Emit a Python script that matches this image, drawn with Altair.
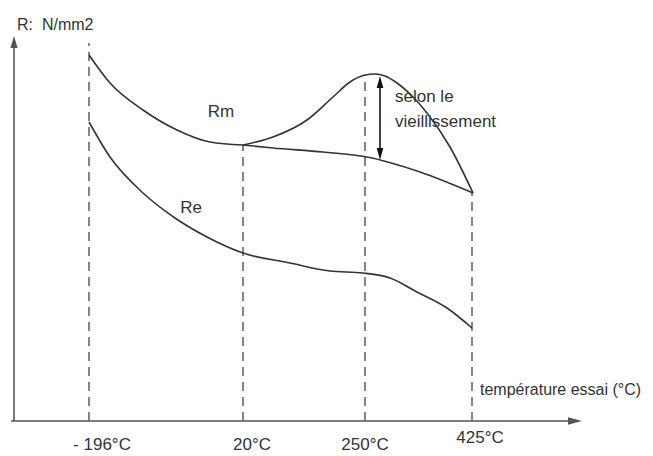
import altair as alt
import pandas as pd

# Schematic coordinates (x: horizontal position units, y: strength units, 0 at page bottom)
H = 456

# Rm branch from -196°C to 20°C
rm_cold_x = [89, 110, 143, 177, 210, 243]
rm_cold_y = [55, 83, 110, 130, 142, 145]
# Rm after ageing (hump)
rm_age_x = [243, 273, 307, 333, 350, 365, 375, 385, 397, 412, 427, 450, 473]
rm_age_y = [145, 137, 120, 97, 82, 75, 74, 76, 83, 96, 113, 147, 193]
# Rm without ageing
rm_flat_x = [243, 273, 323, 367, 420, 473]
rm_flat_y = [145, 148, 152, 157, 172, 193]
# Re
re_x = [89, 110, 143, 175, 207, 243, 290, 330, 363, 390, 417, 447, 472]
re_y = [122, 157, 193, 218, 237, 253, 263, 271, 273, 278, 292, 308, 328]

# vertical reference lines (temperatures)
temp_labels = ["- 196°C", "20°C", "250°C", "425°C"]
temp_pos = [89, 243, 365, 472]
temp_top = [43, 145, 75, 193]
label_x = [102, 252, 365, 480]
label_y = [445, 445, 445, 438]

rows = []
for name, xs, ys in [("rm1", rm_cold_x, rm_cold_y), ("rm2", rm_age_x, rm_age_y),
                     ("rm3", rm_flat_x, rm_flat_y), ("re", re_x, re_y)]:
    for x, y in zip(xs, ys):
        rows.append({"s": name, "x": x, "y": H - y})
curves = pd.DataFrame(rows)

xs = alt.Scale(domain=[8, 645], range=[0, 637], nice=False, zero=False)
ys = alt.Scale(domain=[2, 448], nice=False, zero=False)

def X(f="x"):
    return alt.X(f"{f}:Q", scale=xs, axis=None)

def Y(f="y"):
    return alt.Y(f"{f}:Q", scale=ys, axis=None)

ink = "#333333"
axc = "#555555"

lines = alt.Chart(curves).mark_line(interpolate="monotone", color=ink, strokeWidth=1.6).encode(
    x=X(), y=Y(), detail="s:N", order="x:Q")

vdf = pd.DataFrame({"x": temp_pos, "y": [H - 421] * 4, "y2": [H - t for t in temp_top]})
vlines = alt.Chart(vdf).mark_rule(color="#444444", strokeWidth=1.3, strokeDash=[9, 6]).encode(
    x=X(), y=Y(), y2="y2:Q")

# axes
axdf = pd.DataFrame({"x": [14, 11], "x2": [14, 570], "y": [H - 421, H - 421], "y2": [H - 46, H - 421]})
axes = alt.Chart(axdf).mark_rule(color=axc, strokeWidth=1.6).encode(x=X(), x2="x2:Q", y=Y(), y2="y2:Q")

up_head = alt.Chart(pd.DataFrame({"x": [14], "y": [H - 42]})).mark_point(
    shape="M0,-1L0.6,1L-0.6,1Z", filled=True, size=144, color=axc, opacity=1).encode(x=X(), y=Y())
right_head = alt.Chart(pd.DataFrame({"x": [575], "y": [H - 421]})).mark_point(
    shape="M1,0L-1,0.55L-1,-0.55Z", filled=True, size=196, color=axc, opacity=1).encode(x=X(), y=Y())

# double arrow "selon le vieillissement"
arr = alt.Chart(pd.DataFrame({"x": [380], "y": [H - 80], "y2": [H - 156]})).mark_rule(
    color="#111111", strokeWidth=1.6).encode(x=X(), y=Y(), y2="y2:Q")
arr_up = alt.Chart(pd.DataFrame({"x": [380], "y": [H - 82]})).mark_point(
    shape="M0,-1L0.55,1L-0.55,1Z", filled=True, size=144, color="#111111", opacity=1).encode(x=X(), y=Y())
arr_dn = alt.Chart(pd.DataFrame({"x": [380], "y": [H - 154]})).mark_point(
    shape="M0,1L0.55,-1L-0.55,-1Z", filled=True, size=144, color="#111111", opacity=1).encode(x=X(), y=Y())

font = "Liberation Sans"
tick_df = pd.DataFrame({"t": temp_labels, "x": label_x, "y": [H - v for v in label_y]})
ticks = alt.Chart(tick_df).mark_text(font=font, fontSize=17, color=ink, align="center", baseline="middle").encode(
    x=X(), y=Y(), text="t:N")

left_txt = pd.DataFrame({
    "t": ["R:\u00a0 N/mm2", "selon le", "vieillissement", "température essai (°C)"],
    "x": [17, 395, 395, 480],
    "y": [H - 25, H - 97, H - 122, H - 390],
    "fs": [16, 17, 17, 16],
})
ltxt = alt.Chart(left_txt).mark_text(font=font, color=ink, align="left", baseline="middle").encode(
    x=X(), y=Y(), text="t:N", size=alt.Size("fs:Q", scale=None, legend=None))

c_txt = pd.DataFrame({"t": ["Rm", "Re"], "x": [221, 191], "y": [H - 112, H - 208]})
ctxt = alt.Chart(c_txt).mark_text(font=font, fontSize=17, color=ink, align="center", baseline="middle").encode(
    x=X(), y=Y(), text="t:N")

chart = alt.layer(vlines, axes, up_head, right_head, lines, arr, arr_up, arr_dn, ticks, ltxt, ctxt).properties(
    width=637, height=446, autosize="none", padding=0, background="white"
).configure_view(stroke=None)

chart.save("out.html", embed_options={"renderer": "svg", "actions": False})
